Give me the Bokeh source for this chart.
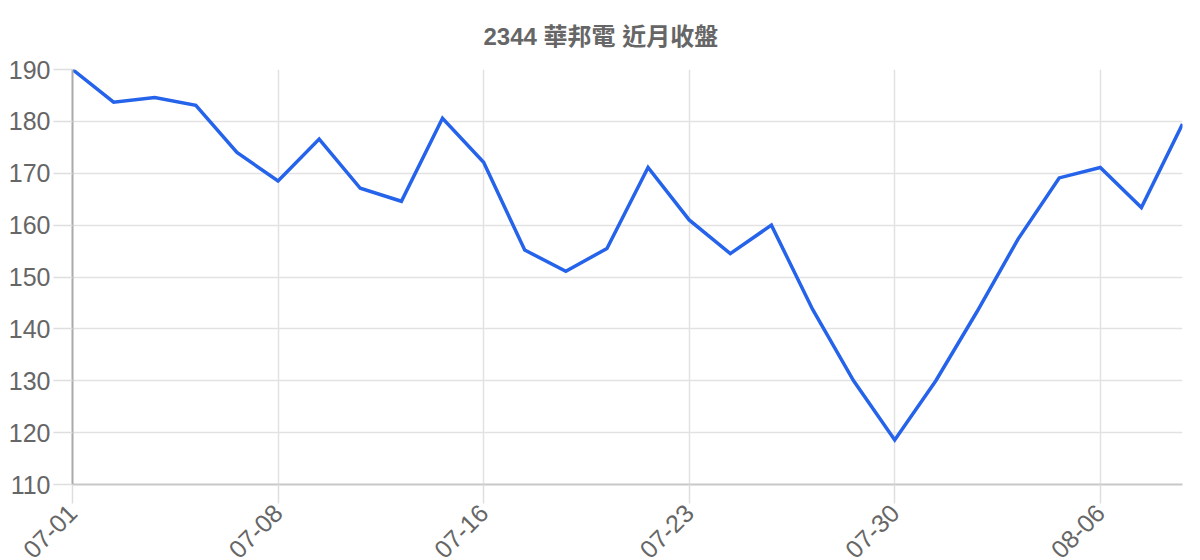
import math
from bokeh.plotting import figure
from bokeh.models import Range1d, FixedTicker, ColumnDataSource
from bokeh.embed import file_html
from bokeh.resources import INLINE

title_text = "2344 華邦電 近月收盤"
dates = ["07-01", "07-02", "07-03", "07-04", "07-07", "07-08", "07-09", "07-10",
         "07-11", "07-14", "07-16", "07-17", "07-18", "07-21", "07-22", "07-23",
         "07-24", "07-25", "07-28", "07-29", "07-30", "07-31", "08-01", "08-04",
         "08-05", "08-06", "08-07", "08-08"]
closes = [190.0, 183.7, 184.6, 183.1, 174.0, 168.5, 176.6, 167.1,
          164.6, 180.6, 172.1, 155.2, 151.1, 155.5, 171.1, 161.0,
          154.5, 160.0, 143.8, 130.0, 118.6, 130.0, 143.3, 157.3,
          169.1, 171.1, 163.4, 179.5]
label_every = 5
y_ticks = [110, 120, 130, 140, 150, 160, 170, 180, 190]

idx = list(range(len(dates)))
src = ColumnDataSource(dict(x=idx, y=closes, d=dates))

FONT = "'Liberation Sans', Arial, Helvetica, sans-serif"
TFONT = "'Liberation Sans', 'Noto Sans CJK TC', sans-serif"

p = figure(frame_width=1110, frame_height=415, output_backend="svg", toolbar_location=None,
           x_range=Range1d(0, len(dates) - 1), y_range=Range1d(y_ticks[0], y_ticks[-1]),
           min_border_left=72, min_border_right=8, min_border_top=69, min_border_bottom=60)
p.outline_line_color = None
p.background_fill_color = "white"
p.border_fill_color = "white"

p.title.text = title_text
p.title.align = "left"
p.title.vertical_align = "bottom"
p.title.offset = 411
p.title.standoff = 40
p.title.text_font = TFONT
p.title.text_font_size = "24px"
p.title.text_font_style = "bold"
p.title.text_color = "#666666"

p.line("x", "y", source=src, line_color="#2563eb", line_width=3.5, line_join="miter")

tick_pos = idx[::label_every]
p.xaxis.ticker = FixedTicker(ticks=tick_pos)
p.xaxis.major_label_overrides = {i: dates[i] for i in tick_pos}
p.xaxis.major_label_orientation = math.pi / 4
p.yaxis.ticker = FixedTicker(ticks=y_ticks)

for ax in (p.xaxis, p.yaxis):
    ax.major_label_text_font = FONT
    ax.major_label_text_font_size = "25px"
    ax.major_label_text_color = "#666666"
    ax.minor_tick_line_color = None
    ax.major_tick_in = 0
    ax.major_tick_line_color = "#dedede"
    ax.major_tick_line_width = 1.5

p.yaxis.axis_line_color = "#aaaaaa"
p.yaxis.axis_line_width = 2
p.yaxis.major_tick_out = 19
p.yaxis.major_label_standoff = 3
p.xaxis.axis_line_color = "#c8c8c8"
p.xaxis.axis_line_width = 2
p.xaxis.major_tick_out = 19
p.xaxis.major_label_standoff = 5

p.xgrid.ticker = FixedTicker(ticks=tick_pos)
p.ygrid.ticker = FixedTicker(ticks=y_ticks)
for g in (p.xgrid, p.ygrid):
    g.grid_line_color = "#e2e2e2"
    g.grid_line_width = 1.5

open("out.html", "w").write(file_html(p, INLINE))
